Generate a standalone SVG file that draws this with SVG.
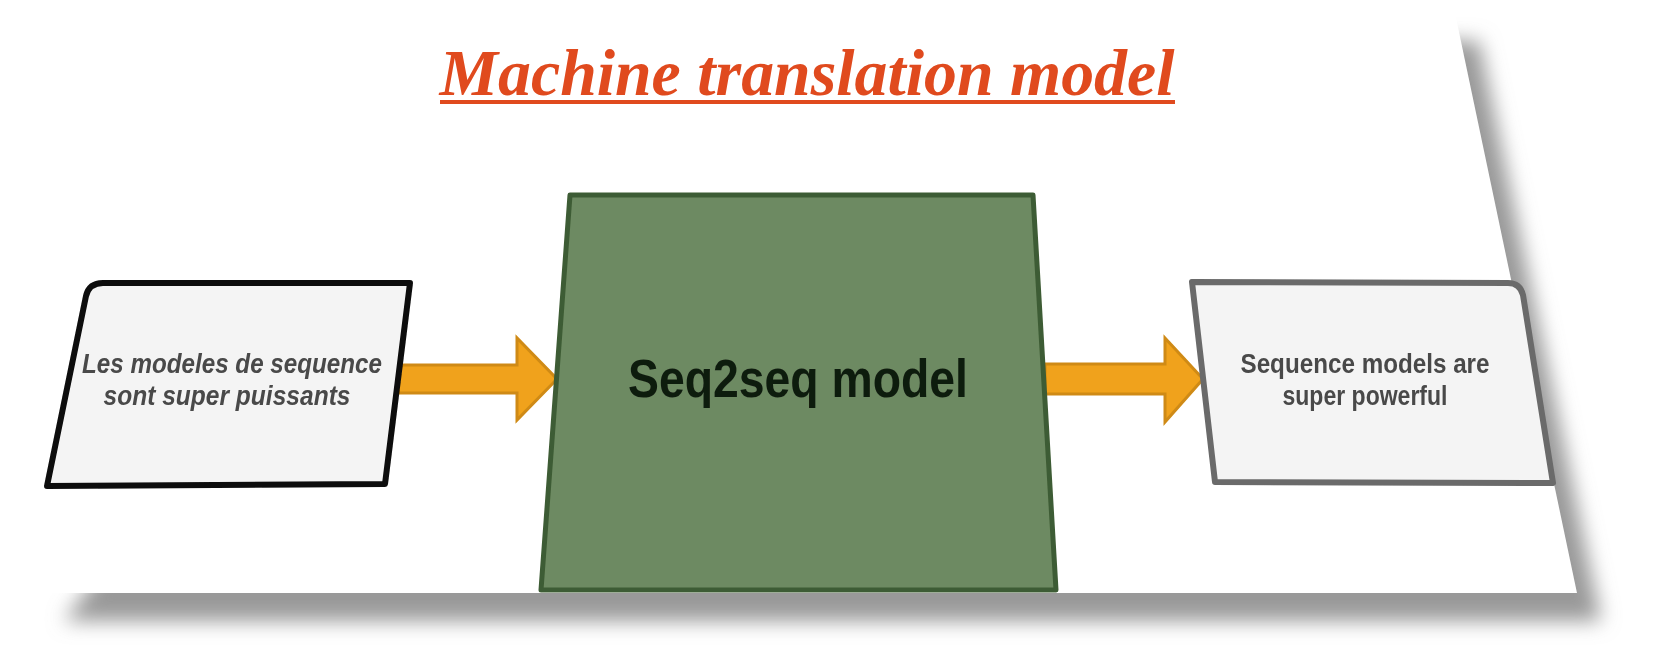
<svg xmlns="http://www.w3.org/2000/svg" width="1655" height="653" viewBox="0 0 1655 653">
  <defs>
    <filter id="shadow" x="-10%" y="-10%" width="120%" height="130%">
      <feGaussianBlur stdDeviation="10"/>
    </filter>
    <filter id="soft" x="-5%" y="-5%" width="110%" height="110%">
      <feGaussianBlur stdDeviation="0.6"/>
    </filter>
  </defs>
  <style>
    .box { fill: #f4f4f4; stroke-width: 6; stroke-linejoin: round; }
    .arrow { fill: #f0a21a; stroke: #cf8a14; stroke-width: 3; stroke-linejoin: miter; }
    .lbl { font-family: "Liberation Sans", Arial, sans-serif; font-weight: bold; text-anchor: middle; }
  </style>
  <rect width="1655" height="653" fill="#ffffff"/>
  <g id="page">
    <polygon points="140,0 1455,13 1577,593 40,593 80,540" fill="#999999" transform="translate(24,28)" filter="url(#shadow)"/>
    <polygon points="-200,-20 1455,13 1577,593 38,593 -200,593" fill="#ffffff"/>
  </g>
  <g id="title">
    <text x="807" y="95" font-family="'Liberation Serif', 'Times New Roman', serif" font-size="66" font-style="italic" font-weight="bold" fill="#e04a1e" text-anchor="middle" textLength="735" lengthAdjust="spacingAndGlyphs">Machine translation model</text>
    <rect x="440" y="100" width="735" height="4" fill="#e04a1e"/>
  </g>
  <g id="connectors" filter="url(#soft)">
    <polygon class="arrow" points="397,365 517,365 517,338 557,379 517,420 517,393 397,393"/>
    <polygon class="arrow" points="1045,364 1165,364 1165,338 1203,379 1165,422 1165,394 1045,394"/>
  </g>
  <g id="input" filter="url(#soft)">
    <path class="box" stroke="#0a0a0a" d="M103,283 L410,283 L385,484 L47,486 L86,296 Q89,283 103,283 Z"/>
    <text class="lbl" font-style="italic" font-size="27" fill="#4a4a4a" x="232" y="373" textLength="300" lengthAdjust="spacingAndGlyphs">Les modeles de sequence</text>
    <text class="lbl" font-style="italic" font-size="27" fill="#4a4a4a" x="227" y="405" textLength="247" lengthAdjust="spacingAndGlyphs">sont super puissants</text>
  </g>
  <g id="model" filter="url(#soft)">
    <polygon points="570,195 1033,195 1056,590 541,590" fill="#6d8a62" stroke="#3e5c34" stroke-width="5" stroke-linejoin="round"/>
    <text class="lbl" font-size="54" fill="#111a10" x="798" y="397" textLength="340" lengthAdjust="spacingAndGlyphs">Seq2seq model</text>
  </g>
  <g id="output" filter="url(#soft)">
    <path class="box" stroke="#6a6a6a" d="M1192,282 L1508,283 Q1520,283 1523,295 L1553,483 L1215,482 Z"/>
    <text class="lbl" font-size="27" fill="#4a4a4a" x="1365" y="373" textLength="249" lengthAdjust="spacingAndGlyphs">Sequence models are</text>
    <text class="lbl" font-size="27" fill="#4a4a4a" x="1365" y="405" textLength="165" lengthAdjust="spacingAndGlyphs">super powerful</text>
  </g>
</svg>
